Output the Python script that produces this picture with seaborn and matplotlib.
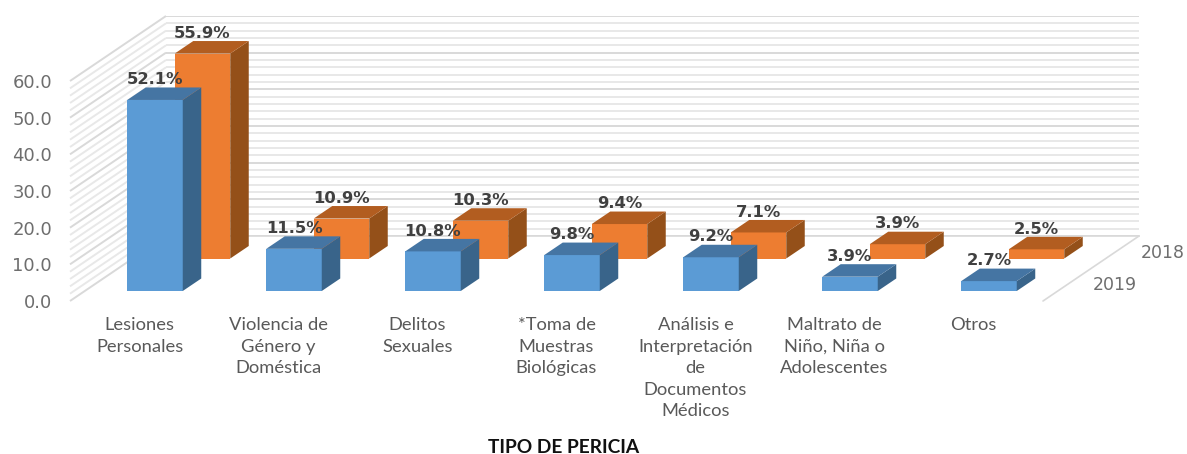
import matplotlib
matplotlib.use('Agg')
import matplotlib.pyplot as plt
import seaborn as sns
from matplotlib.patches import Polygon

categories = ['Lesiones\nPersonales', 'Violencia de\nGénero y\nDoméstica', 'Delitos\nSexuales',
              '*Toma de\nMuestras\nBiológicas', 'Análisis e\nInterpretación\nde\nDocumentos\nMédicos',
              'Maltrato de\nNiño, Niña o\nAdolescentes', 'Otros']
values_2019 = [52.1, 11.5, 10.8, 9.8, 9.2, 3.9, 2.7]
values_2018 = [55.9, 10.9, 10.3, 9.4, 7.1, 3.9, 2.5]
y_ticks = [0, 10, 20, 30, 40, 50, 60]

W, H = 1187, 454
PLANE_W, PLANE_H = 973, 220
PX_X = 7 / PLANE_W      # data units per pixel, x
PX_Y = 60 / PLANE_H     # data units per pixel, y

sns.set_theme(style='white')
fig = plt.figure(figsize=(W / 100, H / 100), dpi=100)


def plane_axes(dx, dy, zorder):
    # every depth plane is the same box moved back along the floor diagonal
    ax = fig.add_axes([(70 + dx) / W, (H - 301 + dy) / H, PLANE_W / W, PLANE_H / H], zorder=zorder)
    ax.set_xlim(-0.5, 6.5)
    ax.set_ylim(0, 60)
    ax.patch.set_alpha(0)
    return ax


def draw_series(ax, values, colors, name):
    front, side, top = colors
    sns.barplot(x=categories, y=values, ax=ax, color=front, saturation=1, width=55.5 / 139, linewidth=0)
    ax.set_xlim(-0.5, 6.5)
    ax.set_ylim(0, 60)
    dx, dy = 18.5 * PX_X, 12.5 * PX_Y
    for bar, v in zip(ax.patches, values):
        x0, x1 = bar.get_x(), bar.get_x() + bar.get_width()
        ax.add_patch(Polygon([(x1, 0), (x1 + dx, dy), (x1 + dx, v + dy), (x1, v)], fc=side, ec='none', clip_on=False))
        ax.add_patch(Polygon([(x0, v), (x0 + dx, v + dy), (x1 + dx, v + dy), (x1, v)], fc=top, ec='none', clip_on=False))
        ax.annotate(f'{v:.1f}%', (bar.get_x() + bar.get_width() / 2, v), xytext=(0, 14.6),
                    textcoords='offset points', ha='center', va='center', fontsize=11.8,
                    fontweight='bold', color='#404040', family='DejaVu Sans', annotation_clip=False, zorder=5)
    ax.annotate(name, (1, 0), xycoords='axes fraction', xytext=(25, 4), textcoords='offset points',
                ha='left', va='center', fontsize=12.5, color='#6e6e6e', family='DejaVu Sans', annotation_clip=False)
    ax.set_axis_off()


# back wall with grid, plus left wall and floor
ax_wall = plane_axes(96, 65, 0)
ax_wall.set_yticks(y_ticks)
ax_wall.set_yticks(range(0, 61, 2), minor=True)
ax_wall.set_xticks([])
ax_wall.tick_params(which='both', length=0, labelleft=False)
ax_wall.grid(axis='y', which='minor', color='#e8e8e8', lw=1.4)
ax_wall.grid(axis='y', which='major', color='#d9d9d9', lw=1.4)
sns.despine(ax=ax_wall, left=True, top=True, right=True, bottom=False)
ax_wall.spines['bottom'].set_color('#d9d9d9')
ax_wall.spines['bottom'].set_linewidth(1.2)
back_x, back_y = 96 * PX_X, 65 * PX_Y
for v in range(0, 61, 2):
    major = v % 10 == 0
    ax_wall.plot([-0.5, -0.5 - back_x], [v, v - back_y], color='#d9d9d9' if major else '#e8e8e8',
                 lw=1.4, clip_on=False, solid_capstyle='butt')
ax_wall.plot([6.5, 6.5 - back_x], [0, -back_y], color='#d9d9d9', lw=1.2, clip_on=False)

ax_2018 = plane_axes(63, 42.5, 1)
draw_series(ax_2018, values_2018, ('#ED7D31', '#945019', '#B25D20'), '2018')

ax_2019 = plane_axes(15.5, 10, 2)
draw_series(ax_2019, values_2019, ('#5B9BD5', '#39648A', '#4575A3'), '2019')

# front plane carries the value axis and the category labels
ax = plane_axes(0, 0, 3)
ax.set_yticks(y_ticks, [f'{t:.1f}' for t in y_ticks], fontsize=13, color='#6e6e6e', family='DejaVu Sans')
ax.set_xticks(range(len(categories)), categories, fontsize=13.2, color='#595959', family='Lato', linespacing=1.43)
ax.tick_params(axis='y', length=0, pad=13)
ax.tick_params(axis='x', length=0, pad=11.5)
sns.despine(ax=ax, left=True, bottom=True)
ax.set_xlabel('TIPO DE PERICIA', fontsize=13.8, fontweight='bold', color='#111111', family='Lato')
ax.xaxis.set_label_coords(0.507, -0.664)
ax.xaxis.label.set_va('center')

fig.savefig('out.png', dpi=100)
